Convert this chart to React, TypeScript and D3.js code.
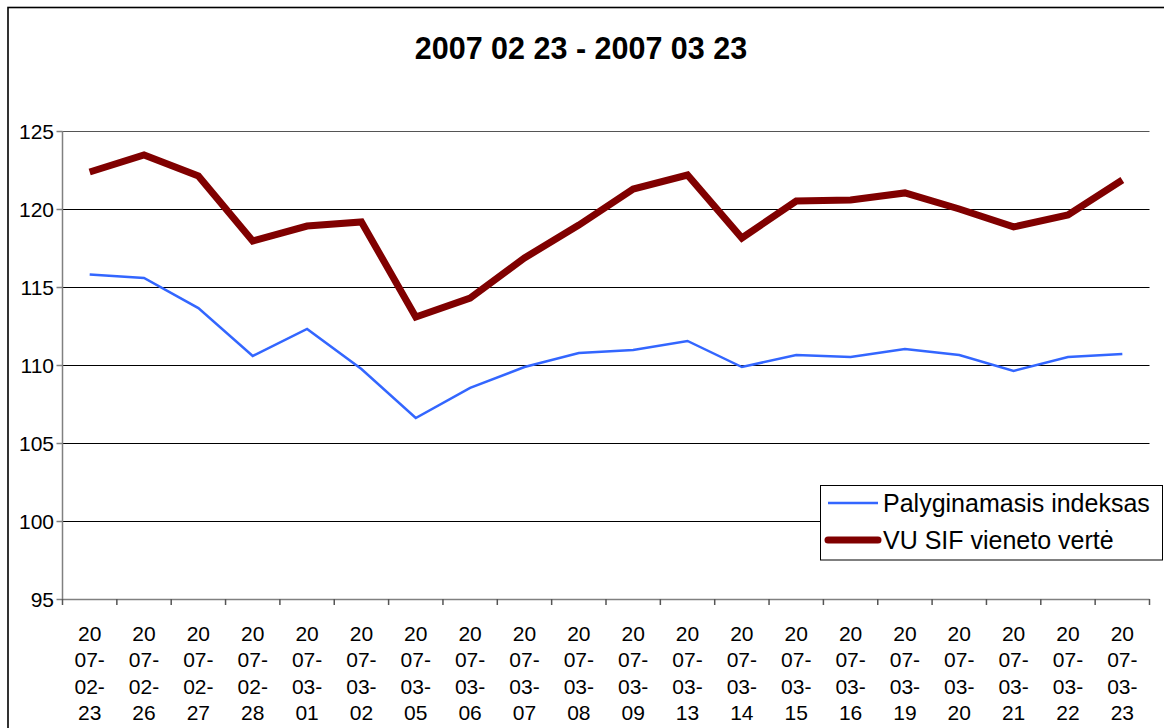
import React, { useEffect, useRef } from "react";
import * as d3 from "d3";

const dates = [
  "2007-02-23", "2007-02-26", "2007-02-27", "2007-02-28", "2007-03-01",
  "2007-03-02", "2007-03-05", "2007-03-06", "2007-03-07", "2007-03-08",
  "2007-03-09", "2007-03-13", "2007-03-14", "2007-03-15", "2007-03-16",
  "2007-03-19", "2007-03-20", "2007-03-21", "2007-03-22", "2007-03-23",
];

const indexValues = [
  115.8, 115.58, 113.65, 110.58, 112.31, 109.74, 106.6, 108.53, 109.87, 110.77,
  110.96, 111.54, 109.87, 110.64, 110.51, 111.03, 110.64, 109.62, 110.51, 110.71,
];

const fundValues = [
  122.37, 123.46, 122.12, 117.95, 118.91, 119.17, 113.08, 114.29, 116.86, 118.97,
  121.28, 122.18, 118.14, 120.51, 120.58, 121.03, 120.0, 118.85, 119.62, 121.86,
];

const yTicks = [95, 100, 105, 110, 115, 120, 125];

const seriesNames = ["Palyginamasis indeksas", "VU SIF vieneto vertė"];
const title = "2007 02 23 - 2007 03 23";

const App = () => {
  const svgRef = useRef<SVGSVGElement>(null);

  useEffect(() => {
    const svg = d3.select(svgRef.current);
    svg.selectAll("*").remove();

    const width = 1164,
      height = 728;
    const font = "Liberation Sans, Arial, sans-serif";

    // outer chart border (runs off the right / bottom edge)
    svg
      .append("rect")
      .attr("x", 8)
      .attr("y", 7.5)
      .attr("width", width + 20)
      .attr("height", height + 20)
      .attr("fill", "#fff")
      .attr("stroke", "#000")
      .attr("stroke-width", 1.6);

    svg
      .append("text")
      .attr("x", 581)
      .attr("y", 59)
      .attr("text-anchor", "middle")
      .attr("font-family", font)
      .attr("font-weight", "bold")
      .attr("font-size", "30.5px")
      .text(title);

    const left = 62.5,
      right = 1149.5,
      top = 131,
      bottom = 599;

    const x = d3.scaleBand().domain(dates).range([left, right]).padding(0);
    const y = d3.scaleLinear().domain([95, 125]).range([bottom, top]);

    // gridlines
    svg
      .append("g")
      .selectAll("line")
      .data(yTicks.filter((t) => t > 95))
      .enter()
      .append("line")
      .attr("x1", left)
      .attr("x2", right)
      .attr("y1", (d) => Math.round(y(d)) + 0.5)
      .attr("y2", (d) => Math.round(y(d)) + 0.5)
      .attr("stroke", (d) => (d === 125 ? "#555" : "#000"))
      .attr("stroke-width", 1);

    // y axis
    const yAxis = svg.append("g");
    yAxis
      .append("line")
      .attr("x1", left)
      .attr("x2", left)
      .attr("y1", top)
      .attr("y2", bottom)
      .attr("stroke", "#808080")
      .attr("stroke-width", 1.5);
    yTicks.forEach((t) => {
      const yy = Math.round(y(t)) + 0.5;
      yAxis
        .append("line")
        .attr("x1", left - 6)
        .attr("x2", left)
        .attr("y1", yy)
        .attr("y2", yy)
        .attr("stroke", "#808080")
        .attr("stroke-width", 1.5);
      yAxis
        .append("text")
        .attr("x", 54)
        .attr("y", yy)
        .attr("dy", "0.36em")
        .attr("text-anchor", "end")
        .attr("font-family", font)
        .attr("font-size", "21px")
        .text(t);
    });

    // x axis
    const xAxis = svg.append("g");
    xAxis
      .append("line")
      .attr("x1", left)
      .attr("x2", right)
      .attr("y1", bottom + 0.5)
      .attr("y2", bottom + 0.5)
      .attr("stroke", "#808080")
      .attr("stroke-width", 1.5);
    const bounds = dates.map((d) => x(d)!).concat([right]);
    bounds.forEach((bx) => {
      xAxis
        .append("line")
        .attr("x1", bx)
        .attr("x2", bx)
        .attr("y1", bottom)
        .attr("y2", bottom + 6)
        .attr("stroke", "#555")
        .attr("stroke-width", 1.5);
    });
    dates.forEach((d) => {
      const [yr, mo, dy] = d.split("-");
      const lines = [yr.slice(0, 2), yr.slice(2) + "-", mo + "-", dy];
      const cx = x(d)! + x.bandwidth() / 2;
      const t = xAxis
        .append("text")
        .attr("text-anchor", "middle")
        .attr("font-family", font)
        .attr("font-size", "21px");
      lines.forEach((ln, i) => {
        t.append("tspan")
          .attr("x", cx)
          .attr("y", 641 + i * 26.3)
          .text(ln);
      });
    });

    const cxOf = (i: number) => x(dates[i])! + x.bandwidth() / 2;

    const line = d3
      .line<number>()
      .x((_, i) => cxOf(i))
      .y((v) => y(v));

    svg
      .append("path")
      .attr("d", line(indexValues))
      .attr("fill", "none")
      .attr("stroke", "#3366ff")
      .attr("stroke-width", 2.5)
      .attr("stroke-linejoin", "miter");

    svg
      .append("path")
      .attr("d", line(fundValues))
      .attr("fill", "none")
      .attr("stroke", "#800000")
      .attr("stroke-width", 7)
      .attr("stroke-linejoin", "miter");

    // legend
    const lg = svg.append("g");
    lg.append("rect")
      .attr("x", 820.5)
      .attr("y", 485.5)
      .attr("width", 342)
      .attr("height", 74.5)
      .attr("fill", "#fff")
      .attr("stroke", "#000")
      .attr("stroke-width", 1);
    const legendItems = [
      { name: seriesNames[0], color: "#3366ff", w: 2.5, cap: "butt", y: 503 },
      { name: seriesNames[1], color: "#800000", w: 7, cap: "round", y: 540 },
    ];
    legendItems.forEach((it) => {
      lg.append("line")
        .attr("x1", 828)
        .attr("x2", 878)
        .attr("y1", it.y)
        .attr("y2", it.y)
        .attr("stroke", it.color)
        .attr("stroke-width", it.w)
        .attr("stroke-linecap", it.cap);
      lg.append("text")
        .attr("x", 883)
        .attr("y", it.y)
        .attr("dy", "0.36em")
        .attr("font-family", font)
        .attr("font-size", "25px")
        .text(it.name);
    });
  }, []);

  return (
    <div>
      <style>{`body{margin:0;overflow:hidden}`}</style>
      <svg ref={svgRef} width={1164} height={728} style={{ display: "block" }}></svg>
    </div>
  );
};

export default App;
